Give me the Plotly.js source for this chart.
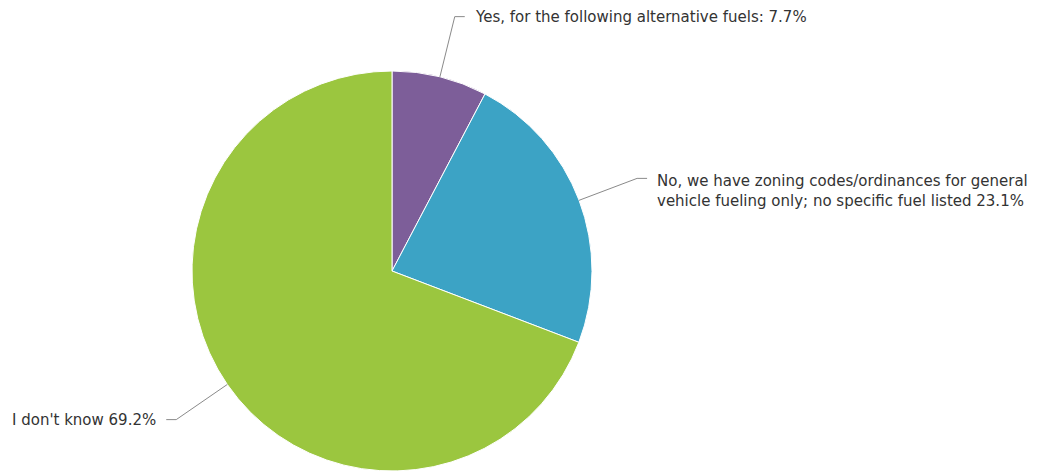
<!DOCTYPE html>
<html>
<head>
<meta charset="utf-8">
<script src="https://cdn.plot.ly/plotly-3.0.1.min.js"></script>
<style>html,body{margin:0;padding:0;background:#fff;}#chart{width:1053px;height:473px;}</style>
</head>
<body>
<div id="chart"></div>
<script>
// Data
var categories = [
  "Yes, for the following alternative fuels:",
  "No, we have zoning codes/ordinances for general<br>vehicle fueling only; no specific fuel listed",
  "I don't know"
];
var values = [7.7, 23.1, 69.2];
var colors = ["#7d5e99", "#3ca3c5", "#9bc63f"];

// Layout geometry (pixels)
var W = 1053, H = 473;
var cx = 392, cy = 271, R = 200;
var radialExt = 62, elbow = 10, gap = 8;
var fontSize = 15, lineH = 19.5;

function px2x(x){ return x / W; }
function py2y(y){ return 1 - y / H; }

var total = values.reduce(function(a,b){return a+b;}, 0);
var shapes = [], annotations = [];
var cum = 0;
for (var i = 0; i < values.length; i++) {
  var mid = (cum + values[i] / 2) / total * 2 * Math.PI;
  cum += values[i];
  var dx = Math.sin(mid), dy = -Math.cos(mid);
  var x0 = cx + R * dx, y0 = cy + R * dy;
  var x1 = cx + (R + radialExt) * dx, y1 = cy + (R + radialExt) * dy;
  var side = dx >= 0 ? 1 : -1;
  var x2 = x1 + side * elbow;
  shapes.push({
    type: 'path', xref: 'paper', yref: 'paper',
    path: 'M' + px2x(x0) + ',' + py2y(y0) + ' L' + px2x(x1) + ',' + py2y(y1) + ' L' + px2x(x2) + ',' + py2y(y1),
    line: {color: '#8a8a8a', width: 1}
  });
  var multi = categories[i].indexOf('<br>') >= 0;
  annotations.push({
    xref: 'paper', yref: 'paper',
    x: px2x(x2 + side * gap), y: py2y(y1),
    xanchor: side > 0 ? 'left' : 'right',
    yanchor: multi ? 'top' : 'middle',
    yshift: multi ? lineH / 2 - 1 : 0,
    align: 'left',
    showarrow: false,
    text: categories[i] + ' ' + values[i].toFixed(1) + '%',
    font: {family: 'DejaVu Sans, Liberation Sans, Arial, sans-serif', size: fontSize, color: '#333333'}
  });
}

var trace = {
  type: 'pie',
  values: values,
  labels: categories,
  marker: {colors: colors, line: {color: '#ffffff', width: 1}},
  sort: false,
  direction: 'clockwise',
  rotation: 0,
  textinfo: 'none',
  hoverinfo: 'none',
  showlegend: false,
  domain: {x: [px2x(cx - R), px2x(cx + R)], y: [py2y(cy + R), py2y(cy - R)]}
};

var layout = {
  width: W, height: H,
  margin: {l: 0, r: 0, t: 0, b: 0},
  paper_bgcolor: '#ffffff',
  plot_bgcolor: '#ffffff',
  showlegend: false,
  shapes: shapes,
  annotations: annotations
};

Plotly.newPlot('chart', [trace], layout, {displayModeBar: false, staticPlot: true});
</script>
</body>
</html>
